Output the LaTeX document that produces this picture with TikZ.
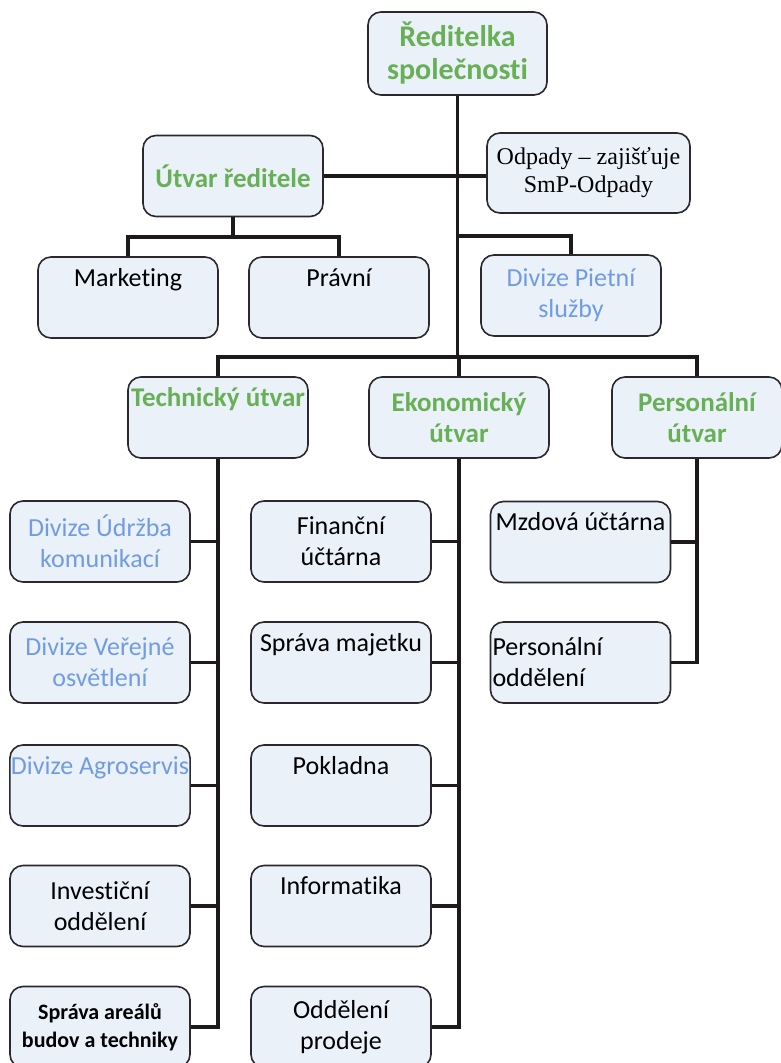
\documentclass[tikz,border=0pt]{standalone}
\usepackage{fontspec}
\setmainfont[Ligatures=NoCommon]{Carlito}
\newfontfamily\timesf{Liberation Serif}
\definecolor{boxfill}{RGB}{234,241,249}
\definecolor{boxline}{RGB}{45,40,45}
\definecolor{hgreen}{RGB}{104,176,86}
\definecolor{dblue}{RGB}{112,156,228}
\definecolor{linec}{RGB}{30,25,28}
\begin{document}
\begin{tikzpicture}[x=1pt,y=-1pt,
  box/.style={draw=boxline, line width=1.6pt, fill=boxfill, rounded corners=13pt,
    minimum width=180pt, minimum height=81pt, inner sep=1pt, align=center,
    font=\fontsize{26}{31}\selectfont, text=black},
  head/.style={box, text=hgreen, font=\fontsize{27}{31}\selectfont\bfseries},
  div/.style={box, text=dblue},
  link/.style={line width=3.6pt, draw=linec, line join=miter}]
\clip (0,0) rectangle (781,1063);
\fill[white] (0,0) rectangle (781,1063);
% top
\node[head, minimum width=179pt, minimum height=83pt, font=\fontsize{30}{33}\selectfont\bfseries] (top) at (457.5,53.5) {Ředitelka\\společnosti};
\node[head] (utvar) at (233,176) {Útvar ředitele};
\node[box, minimum width=203pt, minimum height=80pt, font=\timesf\fontsize{24}{28}\selectfont] (odp) at (588.5,173) {Odpady – zajišťuje\\SmP-Odpady};
\node[box] (mkt) at (128,297.5) {Marketing\\\strut};
\node[box] (prav) at (339,297.5) {Právní\\\strut};
\node[div] (piet) at (571,295.5) {Divize Pietní\\služby};
\node[head] (tech) at (218,417.5) {Technický útvar\\\strut};
\node[head] (ekon) at (459,417.5) {Ekonomický\\útvar};
\node[head, minimum width=170pt] (pers) at (697,417.5) {Personální\\útvar};
% left column
\node[div] (udr) at (100,541.5) {Divize Údržba\\komunikací};
\node[div] (ver) at (100,662.5) {Divize Veřejné\\osvětlení};
\node[div] (agr) at (100,785.5) {Divize Agroservis\\\strut};
\node[box] (inv) at (100,906) {Investiční\\oddělení};
\node[box, font=\fontsize{22}{28}\selectfont\bfseries] (spr) at (100,1027) {Správa areálů\\budov a techniky};
% middle column
\node[box] (fin) at (341,541.5) {Finanční\\účtárna};
\node[box] (maj) at (341,662.5) {Správa majetku\\\strut};
\node[box] (pok) at (341,785.5) {Pokladna\\\strut};
\node[box] (inf) at (341,906) {Informatika\\\strut};
\node[box] (odd) at (341,1027) {Oddělení\\prodeje};
% right column
\node[box] (mzd) at (580.5,542) {Mzdová účtárna\\\strut};
\node[box, text width=176pt, align=left] (pod) at (580.5,662.5) {Personální\\oddělení};
% connectors
\coordinate (trunkend) at (457.5,357);
\coordinate (ub) at (233,237);
\coordinate (pb) at (457.5,236);
\draw[link] (top.south) -- (trunkend);
\draw[link] (utvar.east) -- (utvar.east -| odp.west);
\draw[link] (utvar.south) -- (ub);
\draw[link] (mkt.north) -- (mkt.north |- ub) -- (prav.north |- ub) -- (prav.north);
\draw[link] (pb) -- (piet.north |- pb) -- (piet.north);
\draw[link] (tech.north) -- (tech.north |- trunkend) -- (pers.north |- trunkend) -- (pers.north);
\draw[link] (ekon.north) -- (ekon.north |- trunkend);
\draw[link] (tech.south) -- (tech.south |- spr.east) -- (spr.east);
\foreach \n in {udr,ver,agr,inv} \draw[link] (\n.east) -- (\n.east -| tech.south);
\draw[link] (ekon.south) -- (ekon.south |- odd.east) -- (odd.east);
\foreach \n in {fin,maj,pok,inf} \draw[link] (\n.east) -- (\n.east -| ekon.south);
\draw[link] (pers.south) -- (pers.south |- pod.east) -- (pod.east);
\draw[link] (mzd.east) -- (mzd.east -| pers.south);
\end{tikzpicture}
\end{document}
